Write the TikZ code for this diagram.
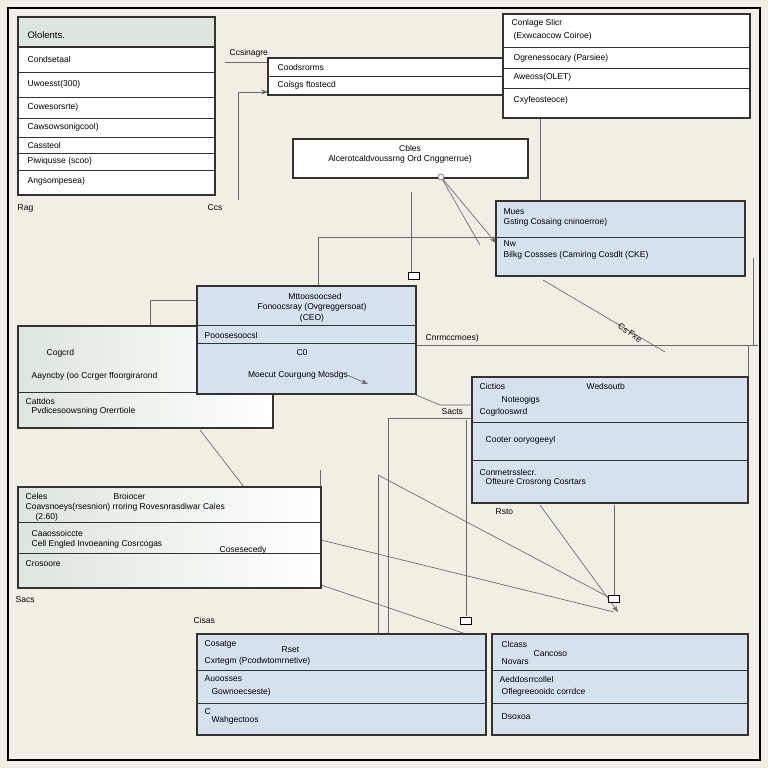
\documentclass[tikz,border=0pt]{standalone}
\usepackage{fontspec}
\setmainfont{Liberation Sans}
\usetikzlibrary{arrows.meta,positioning}
\definecolor{paper}{HTML}{F3EEE4}
\definecolor{bluebox}{HTML}{D6E1EE}
\definecolor{greenbox}{HTML}{DCE6DC}
\definecolor{wire}{HTML}{6A6A6A}
\tikzset{
  x=0.026cm, y=-0.026cm,
  box/.style={draw=black!80, line width=0.9pt},
  row/.style={draw=black!80, line width=0.7pt},
  txt/.style={anchor=west, font=\fontsize{6.3}{7.5}\selectfont, inner sep=1pt},
  ctxt/.style={font=\fontsize{6.3}{7.5}\selectfont, inner sep=1pt, align=center},
  link/.style={draw=wire, line width=0.5pt},
  arr/.style={link, -{Stealth[length=5pt]}},
  tick/.style={draw=black, fill=white, line width=0.5pt, minimum width=8pt, minimum height=5pt, inner sep=0pt}
}
\begin{document}
\begin{tikzpicture}
\useasboundingbox (0,0) rectangle (768,768);
\fill[paper] (0,0) rectangle (768,768);
\draw[line width=0.8pt] (8,8) rectangle (760,760);

% connectors
\draw[link] (225,62) -- (268,62);
\draw[arr] (238,200) -- (238,92) -- (268,92);
\draw[link] (503,73) -- (420,73);
\draw[link] (411,192) -- (411,272);
\node[tick] (t1) at (414,276) {};
\draw[link] (318,286) -- (318,237) -- (496,237);
\draw[arr] (441,177) -- (496,243);
\draw[link] (441,177) -- (480,245);
\draw[link] (543,280) -- (665,352);
\draw[link] (416,345) -- (758,345);
\draw[link] (748,345) -- (748,377);
\draw[link] (416,395) -- (440,405) -- (472,405);
\draw[link] (388,418) -- (388,634);
\draw[link] (388,418) -- (472,418);
\draw[link] (378,475) -- (378,634);
\draw[link] (200,430) -- (322,588);
\draw[link] (378,475) -- (614,600);
\draw[link] (321,540) -- (614,612);
\draw[link] (466,420) -- (466,616);
\node[tick] (t2) at (466,621) {};
\draw[link] (321,585) -- (466,634);
\draw[arr] (540,505) -- (618,612);
\draw[link] (614,505) -- (614,596);
\node[tick] (t3) at (614,599) {};
\draw[link] (150,360) -- (150,300) -- (197,300);
\draw[link] (320,470) -- (320,487);
\draw[link] (753,258) -- (753,345);
\draw[link] (540,118) -- (540,201);

% top-left box
\fill[greenbox] (18,17) rectangle (215,47);
\draw[box,fill=white] (18,47) rectangle (215,195);
\draw[box] (18,17) rectangle (215,195);
\foreach \y in {47,72,97,118,137,153,170} \draw[row] (18,\y) -- (215,\y);
\node[txt] (a0) at (26,35) {\fontsize{7}{8}\selectfont Ololents.};
\node[txt] (a1) at (26,59) {Condsetaal};
\node[txt] (a2) at (26,84) {Uwoesst(300)};
\node[txt] (a3) at (26,107) {Cowesorsrte)};
\node[txt] (a4) at (26,127) {Cawsowsonigcool)};
\node[txt] (a5) at (26,145) {Cassteol};
\node[txt] (a6) at (26,161) {Piwiqusse (scoo)};
\node[txt] (a7) at (26,181) {Angsompesea)};

% small top box
\draw[box,fill=white] (268,58) rectangle (503,95);
\draw[row] (268,76) -- (503,76);
\node[txt] (b1) at (276,67) {Coodsrorms};
\node[txt] (b2) at (276,85) {Coisgs ftostecd};
\node[txt] (b0) at (228,53) {Ccsinagre};

% top-right box
\draw[box,fill=white] (503,14) rectangle (750,118);
\draw[row] (503,47) -- (750,47);
\draw[row] (503,68) -- (750,68);
\draw[row] (503,88) -- (750,88);
\node[txt] (c0) at (510,23) {Conlage Slicr};
\node[txt] (c1) at (512,36) {(Exwcaocow Coiroe)};
\node[txt] (c2) at (512,58) {Ogrenessocary (Parsiee)};
\node[txt] (c3) at (512,77) {Aweoss(OLET)};
\node[txt] (c4) at (512,100) {Cxyfeosteoce)};

% middle header box
\draw[box,fill=white] (293,139) rectangle (528,178);
\node[ctxt] (d0) at (410,148) {Cbles};
\node[ctxt] (d1) at (400,159) {Alcerotcaldvoussrng Ord Cnggnerrue)};
\draw[link,fill=white] (441,177) circle (3);

% Mues box
\draw[box,fill=bluebox] (496,201) rectangle (745,276);
\draw[row] (496,237) -- (745,237);
\node[txt] (e0) at (502,212) {Mues};
\node[txt] (e1) at (502,222) {Gsting Cosaing cninoerroe)};
\node[txt] (e2) at (502,244) {Nw};
\node[txt] (e3) at (502,255) {Bilkg Cossses (Camiring Cosdlt (CKE)};

% left middle box
\shade[left color=greenbox, right color=white] (18,326) rectangle (273,428);
\draw[box] (18,326) rectangle (273,428);
\draw[row] (18,392) -- (273,392);
\node[txt] (f0) at (45,353) {Cogcrd};
\node[txt] (f1) at (30,376) {Aayncby (oo Ccrger ffoorgirarond};
\node[txt] (f2) at (24,401) {Cattdos};
\node[txt] (f3) at (30,411) {Pvdicesoowsning Orerrtiole};

% center box
\draw[box,fill=bluebox] (197,286) rectangle (416,394);
\draw[row] (197,325) -- (416,325);
\draw[row] (197,343) -- (416,343);
\node[ctxt] (g0) at (315,296) {Mttoosoocsed};
\node[ctxt] (g1) at (312,307) {Fonoocsray (Ovgreggersoat)};
\node[ctxt] (g2) at (312,318) {(CEO)};
\node[txt] (g3) at (203,335) {Pooosesoocsl};
\node[ctxt] (g4) at (302,353) {C0};
\node[ctxt] (g5) at (298,375) {Moecut Courgung Mosdgs};
\draw[arr] (340,372) -- (368,384);

% right middle box
\draw[box,fill=bluebox] (472,377) rectangle (748,503);
\draw[row] (472,422) -- (748,422);
\draw[row] (472,460) -- (748,460);
\node[txt] (h0) at (478,386) {Cictios};
\node[txt] (h1) at (585,386) {Wedsoutb};
\node[txt] (h2) at (500,400) {Noteogigs};
\node[txt] (h3) at (478,412) {Cogrlooswrd};
\node[txt] (h4) at (484,440) {Cooter ooryogeeyl};
\node[txt] (h5) at (478,472) {Conmetrsslecr.};
\node[txt] (h6) at (484,482) {Ofteure Crosrong Cosrtars};

% left lower box
\shade[left color=greenbox, right color=white] (18,487) rectangle (321,588);
\draw[box] (18,487) rectangle (321,588);
\draw[row] (18,522) -- (321,522);
\draw[row] (18,553) -- (321,553);
\node[txt] (i0) at (24,496) {Celes};
\node[txt] (i1) at (112,496) {Broiocer};
\node[txt] (i2) at (24,507) {Coavsnoeys(rsesnion) rroring Rovesnrasdiwar Cales};
\node[txt] (i3) at (34,517) {(2.60)};
\node[txt] (i4) at (30,533) {Caaossoiccte};
\node[txt] (i5) at (30,544) {Cell Engled Invoeaning Cosrcogas};
\node[txt] (i6) at (218,550) {Cosesecedy};
\node[txt] (i7) at (24,564) {Crosoore};

% bottom middle box
\draw[box,fill=bluebox] (197,634) rectangle (486,735);
\draw[row] (197,670) -- (486,670);
\draw[row] (197,703) -- (486,703);
\node[txt] (j0) at (203,644) {Cosatge};
\node[txt] (j1) at (280,650) {Rset};
\node[txt] (j2) at (203,661) {Cxrtegm (Pcodwtomrnetive)};
\node[txt] (j3) at (203,679) {Auoosses};
\node[txt] (j4) at (210,692) {Gownoecseste)};
\node[txt] (j5) at (203,712) {C};
\node[txt] (j6) at (210,720) {Wahgectoos};

% bottom right box
\draw[box,fill=bluebox] (492,634) rectangle (748,735);
\draw[row] (492,670) -- (748,670);
\draw[row] (492,703) -- (748,703);
\node[txt] (k0) at (500,644) {Clcass};
\node[txt] (k1) at (532,654) {Cancoso};
\node[txt] (k2) at (500,662) {Novars};
\node[txt] (k3) at (498,679) {Aeddosrrcollel};
\node[txt] (k4) at (500,692) {Oflegreeooidc corrdce};
\node[txt] (k5) at (500,717) {Dsoxoa};

% loose labels
\node[txt] (l1) at (16,208) {Rag};
\node[txt] (l2) at (206,208) {Ccs};
\node[txt] (l3) at (424,338) {Cnrmccmoes)};
\node[ctxt,rotate=-35] (l4) at (630,333) {Cs~Fxe};
\node[txt] (l5) at (440,412) {Sacts};
\node[txt] (l6) at (494,512) {Rsto};
\node[txt] (l7) at (14,600) {Sacs};
\node[txt] (l8) at (192,620) {Cisas};
\end{tikzpicture}
\end{document}
